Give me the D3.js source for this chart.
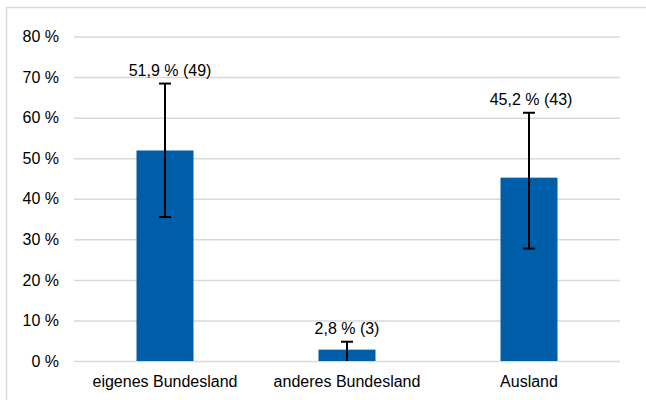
<!DOCTYPE html>
<html><head><meta charset="utf-8">
<script src="https://cdn.jsdelivr.net/npm/d3@7"></script>
<style>body{margin:0;background:#fff}svg{display:block;font-family:"Liberation Sans",Arial,sans-serif}</style>
</head><body><svg id="c" width="646" height="400"></svg>
<script>
const categories = ["eigenes Bundesland", "anderes Bundesland", "Ausland"];
const values = [51.9, 2.8, 45.2];
const counts = [49, 3, 43];
const errLow = [35.5, 0, 27.7];
const errHigh = [68.4, 4.75, 61.2];
const yTicks = [0, 10, 20, 30, 40, 50, 60, 70, 80];

const svg = d3.select("#c");
const W = 646, H = 400;
const m = {l: 74, r: 26, t: 36.5, b: 39};
svg.append("rect").attr("x", 6.5).attr("y", 7.5).attr("width", 660).attr("height", 420)
  .attr("fill", "#fff").attr("stroke", "#d9d9d9").attr("stroke-width", 1.5);

const x = d3.scaleBand().domain(categories).range([m.l, W - m.r]).paddingInner(0).paddingOuter(0);
const y = d3.scaleLinear().domain([0, 80]).range([H - m.b, m.t]);

const fmt = v => d3.format(".1f")(v).replace(".", ",");

// grid
const yAxis = d3.axisLeft(y).tickValues(yTicks).tickSize(-(W - m.r - m.l)).tickPadding(15)
  .tickFormat(d => d + " %");
const ga = svg.append("g").attr("transform", `translate(${m.l},0)`).call(yAxis);
ga.select(".domain").remove();
ga.selectAll(".tick line").attr("stroke", "#d9d9d9").attr("stroke-width", 1.5);
ga.selectAll(".tick text").attr("font-size", 16).attr("fill", "#000").attr("font-family", "Liberation Sans, Arial, sans-serif");

const bw = 57;
const data = categories.map((c, i) => ({c, v: values[i], n: counts[i], lo: errLow[i], hi: errHigh[i]}));
svg.append("g").selectAll("rect").data(data).join("rect")
  .attr("x", d => x(d.c) + x.bandwidth() / 2 - bw / 2).attr("width", bw)
  .attr("y", d => y(d.v)).attr("height", d => y(0) - y(d.v))
  .attr("fill", "#005ea8");

const eb = svg.append("g").attr("stroke", "#000").attr("stroke-width", 2);
data.forEach(d => {
  const cx = x(d.c) + x.bandwidth() / 2;
  eb.append("line").attr("x1", cx).attr("x2", cx).attr("y1", y(d.lo)).attr("y2", y(d.hi));
  eb.append("line").attr("x1", cx - 6).attr("x2", cx + 6).attr("y1", y(d.hi)).attr("y2", y(d.hi));
  if (d.lo > 0) eb.append("line").attr("x1", cx - 6).attr("x2", cx + 6).attr("y1", y(d.lo)).attr("y2", y(d.lo));
});

const labelShift = {"eigenes Bundesland": 5, "anderes Bundesland": 0, "Ausland": 2};
svg.append("g").selectAll("text").data(data).join("text")
  .attr("x", d => x(d.c) + x.bandwidth() / 2 + labelShift[d.c])
  .attr("y", d => y(d.hi) - 7.5)
  .attr("text-anchor", "middle").attr("font-size", 16).attr("fill", "#000")
  .text(d => `${fmt(d.v)} % (${d.n})`);

const xAxis = d3.axisBottom(x).tickSize(0).tickPadding(0);
const gx = svg.append("g").attr("transform", `translate(0,${H - m.b})`).call(xAxis);
gx.select(".domain").remove();
gx.selectAll(".tick text").attr("font-size", 16).attr("fill", "#000")
  .attr("font-family", "Liberation Sans, Arial, sans-serif").attr("dy", 0).attr("y", 25.5);
</script></body></html>
